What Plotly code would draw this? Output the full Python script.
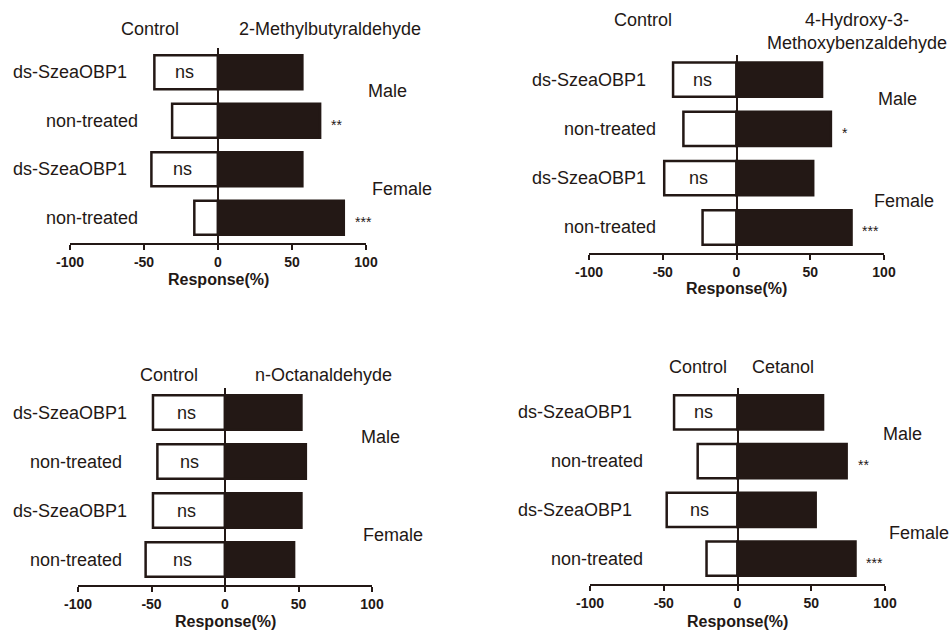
import plotly.graph_objects as go

# ---------------- data ----------------
row_labels = ["ds-SzeaOBP1", "non-treated", "ds-SzeaOBP1", "non-treated"]  # top to bottom
row_pos = [3, 2, 1, 0]
odorants = ["2-Methylbutyraldehyde", "4-Hydroxy-3-<br>Methoxybenzaldehyde", "n-Octanaldehyde", "Cetanol"]

control_1 = [-43, -31, -45, -16]
treat_1 = [57, 69, 57, 85]
sig_1 = ["ns", "**", "ns", "***"]

control_2 = [-43, -36, -49, -23]
treat_2 = [58, 64, 52, 78]
sig_2 = ["ns", "*", "ns", "***"]

control_3 = [-49, -46, -49, -54]
treat_3 = [52, 55, 52, 47]
sig_3 = ["ns", "ns", "ns", "ns"]

control_4 = [-43, -27, -48, -21]
treat_4 = [58, 74, 53, 80]
sig_4 = ["ns", "**", "ns", "***"]

x_ticks = [-100, -50, 0, 50, 100]
sex_labels = ["Male", "Female"]
x_title = "Response(%)"

controls = [control_1, control_2, control_3, control_4]
treats = [treat_1, treat_2, treat_3, treat_4]
sigs = [sig_1, sig_2, sig_3, sig_4]

# ---------------- layout geometry (pixels -> paper) ----------------
W, H = 952, 630
px_x = [(70, 366), (589, 884), (78, 372), (590, 885)]
px_y = [(48, 243), (55, 253), (388, 585), (388, 584)]
label_x = [(-60, -53), (-60, -53), (-65, -69), (-70, -63)]  # (ds, non-treated) right edge in data units
control_xy = [(150, 29), (643, 20), (169, 375), (698, 367)]
title_xy = [(330, 29), (857, 31), (323, 375), (783, 367)]
male_xy = [(387, 91), (897, 99), (380, 437), (902, 434)]
female_xy = [(402, 189), (904, 201), (393, 535), (919, 533)]
resp_y = [279, 289, 621, 621]

INK = "#231815"
FONT = "Arial, Liberation Sans, Helvetica, sans-serif"

fig = go.Figure()
annotations = []


def px2px(x):
    return x / W


def py2py(y):
    return 1 - y / H


for i in range(4):
    xa = "x" if i == 0 else f"x{i+1}"
    ya = "y" if i == 0 else f"y{i+1}"
    fig.add_trace(go.Bar(
        y=row_pos, x=controls[i], orientation="h", width=0.7,
        marker=dict(color="white", line=dict(color=INK, width=2.5)),
        xaxis=xa, yaxis=ya, showlegend=False, hoverinfo="skip"))
    fig.add_trace(go.Bar(
        y=row_pos, x=treats[i], orientation="h", width=0.7,
        marker=dict(color=INK, line=dict(color=INK, width=2.5)),
        xaxis=xa, yaxis=ya, showlegend=False, hoverinfo="skip"))

    xkey = "xaxis" if i == 0 else f"xaxis{i+1}"
    ykey = "yaxis" if i == 0 else f"yaxis{i+1}"
    fig.update_layout(**{
        xkey: dict(domain=[px2px(px_x[i][0]), px2px(px_x[i][1])], anchor=ya,
                   range=[-100, 100], tickvals=x_ticks, ticktext=[str(t) for t in x_ticks],
                   showline=True, linecolor=INK, linewidth=2, ticks="outside",
                   ticklen=5, tickwidth=2, tickcolor=INK, showgrid=False,
                   zeroline=True, zerolinecolor=INK, zerolinewidth=2,
                   tickfont=dict(family=FONT, size=14, color=INK, weight="bold"),
                   automargin=False, fixedrange=True),
        ykey: dict(domain=[py2py(px_y[i][1]), py2py(px_y[i][0])], anchor=xa,
                   range=[-0.52, 3.5], showticklabels=False, showgrid=False,
                   zeroline=False, showline=False, ticks="", automargin=False,
                   fixedrange=True),
    })

    # row labels
    for r in range(4):
        lx = label_x[i][0] if r % 2 == 0 else label_x[i][1]
        annotations.append(dict(xref=xa, yref=ya, x=lx, y=row_pos[r], text=row_labels[r],
                                xanchor="right", yanchor="middle", showarrow=False,
                                font=dict(family=FONT, size=18, color=INK)))
        s = sigs[i][r]
        if s == "ns":
            annotations.append(dict(xref=xa, yref=ya, x=controls[i][r] * 0.53, y=row_pos[r],
                                    text=s, xanchor="center", yanchor="middle", showarrow=False,
                                    font=dict(family=FONT, size=18, color=INK)))
        else:
            annotations.append(dict(xref=xa, yref=ya, x=treats[i][r] + 6, y=row_pos[r],
                                    text=s, xanchor="left", yanchor="middle", showarrow=False,
                                    yshift=-4, font=dict(family=FONT, size=14, color=INK)))

    annotations.append(dict(xref="paper", yref="paper", x=px2px(control_xy[i][0]),
                            y=py2py(control_xy[i][1]), text="Control", showarrow=False,
                            xanchor="center", yanchor="middle",
                            font=dict(family=FONT, size=18, color=INK)))
    annotations.append(dict(xref="paper", yref="paper", x=px2px(title_xy[i][0]),
                            y=py2py(title_xy[i][1]), text=odorants[i], showarrow=False,
                            xanchor="center", yanchor="middle",
                            font=dict(family=FONT, size=18, color=INK)))
    annotations.append(dict(xref="paper", yref="paper", x=px2px(male_xy[i][0]),
                            y=py2py(male_xy[i][1]), text=sex_labels[0], showarrow=False,
                            xanchor="center", yanchor="middle",
                            font=dict(family=FONT, size=18, color=INK)))
    annotations.append(dict(xref="paper", yref="paper", x=px2px(female_xy[i][0]),
                            y=py2py(female_xy[i][1]), text=sex_labels[1], showarrow=False,
                            xanchor="center", yanchor="middle",
                            font=dict(family=FONT, size=18, color=INK)))
    annotations.append(dict(xref=xa, yref="paper", x=0, y=py2py(resp_y[i]), text=x_title,
                            showarrow=False, xanchor="center", yanchor="middle",
                            font=dict(family=FONT, size=16, color=INK, weight="bold")))

fig.update_layout(
    template="none",
    width=W, height=H, margin=dict(l=0, r=0, t=0, b=0, pad=0, autoexpand=False),
    paper_bgcolor="white", plot_bgcolor="white",
    barmode="relative", bargap=0.3,
    annotations=annotations,
)

fig.write_html("out.html", config={"displayModeBar": False},
               post_script="document.body.style.margin='0';document.body.style.overflow='hidden';")
